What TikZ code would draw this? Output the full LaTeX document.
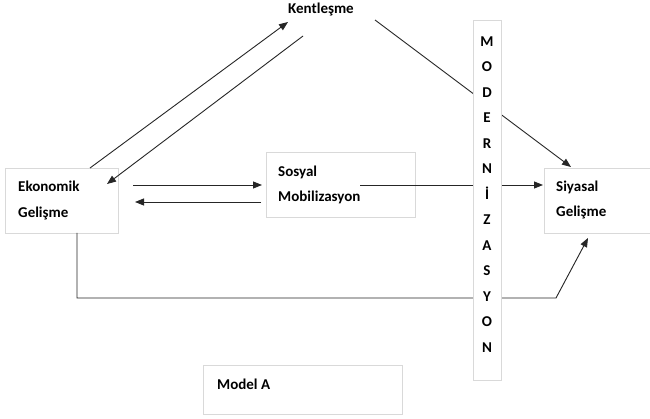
\documentclass[tikz,border=0pt]{standalone}
\usepackage{fontspec}
\setmainfont{Carlito}
\usetikzlibrary{arrows.meta}
\definecolor{boxgray}{HTML}{D9D9D9}
\definecolor{linegray}{HTML}{262626}
\begin{document}
\begin{tikzpicture}[x=1pt,y=-1pt,
  box/.style={draw=boxgray,line width=0.8pt,fill=white,rectangle,inner sep=0pt},
  txt/.style={font=\fontsize{15}{25.5}\selectfont\bfseries,align=left,anchor=west,inner sep=0pt},
  conn/.style={draw=linegray,line width=0.9pt},
  arr/.style={conn,-{Triangle[length=9pt,width=7pt]}}]
\useasboundingbox (0,0) rectangle (650,419);
\fill[white] (0,0) rectangle (650,419);

% boxes
\node[box,minimum width=113pt,minimum height=65pt] (eko) at (61.5,200.5) {};
\node[txt] (ekot) at (18,200.5) {Ekonomik\\Gelişme};

\node[box,minimum width=149pt,minimum height=65pt] (sos) at (340.5,184.5) {};
\node[txt] (sost) at (278,185) {Sosyal\\Mobilizasyon};

\node[box,minimum width=110pt,minimum height=65pt] (siy) at (599,200.5) {};
\node[txt] (siyt) at (556,200) {Siyasal\\Gelişme};

\node[box,minimum width=199pt,minimum height=49pt] (mod) at (302.5,389.5) {};
\node[txt] (modt) at (217,384) {Model A};

\node[txt,anchor=center] (kent) at (321,10) {Kentleşme};

% named anchor points for connectors
\coordinate (e1) at (90,168);
\coordinate (k1) at (288,22);
\coordinate (k2) at (303,36);
\coordinate (e2) at (107,184);
\coordinate (e3) at (133,185);
\coordinate (s3) at (262,185);
\coordinate (s4) at (261,202);
\coordinate (e4) at (135,202);
\coordinate (s5) at (360,185);
\coordinate (p5) at (543,185);
\coordinate (k6) at (375,20);
\coordinate (p6) at (571,167);
\coordinate (e7) at (77,233);
\coordinate (c7a) at (77,298);
\coordinate (c7b) at (556,298);
\coordinate (p7) at (588,238);

% connectors
\draw[arr] (e1) -- (k1);
\draw[arr] (k2) -- (e2);
\draw[arr] (e3) -- (s3);
\draw[arr] (s4) -- (e4);
\draw[arr] (s5) -- (p5);
\draw[arr] (k6) -- (p6);
\draw[arr] (e7) -- (c7a) -- (c7b) -- (p7);

% vertical MODERNIZASYON box over the connectors
\node[box,minimum width=28pt,minimum height=360pt] (mz) at (487,200) {};
\node[txt,align=center,anchor=center] (mzt) at (487,194.5) {M\\O\\D\\E\\R\\N\\İ\\Z\\A\\S\\Y\\O\\N};
\end{tikzpicture}
\end{document}
